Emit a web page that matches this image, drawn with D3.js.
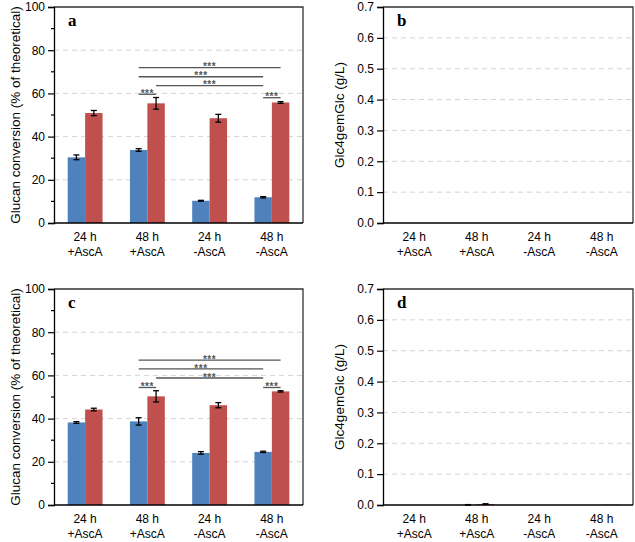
<!DOCTYPE html>
<html>
<head>
<meta charset="utf-8">
<script src="https://cdn.jsdelivr.net/npm/d3@7"></script>
<style>
  body { margin: 0; background: #fff; }
  svg { display: block; font-family: Arial, "Liberation Sans", sans-serif; }
</style>
</head>
<body>
<svg id="chart" width="635" height="542"></svg>
<script>
// ---------- data ----------
const catLine1 = ["24 h", "48 h", "24 h", "48 h"];
const catLine2 = ["+AscA", "+AscA", "-AscA", "-AscA"];
const seriesNames = ["blue", "red"];

// Panel a – glucan conversion (%)
const aBlue = [30.4, 33.8, 10.3, 11.9];
const aBlueErr = [1.1, 0.6, 0.2, 0.3];
const aRed = [50.9, 55.4, 48.5, 55.8];
const aRedErr = [1.2, 2.7, 1.8, 0.4];

// Panel c – glucan conversion (%)
const cBlue = [38.2, 38.7, 24.1, 24.6];
const cBlueErr = [0.4, 1.7, 0.6, 0.3];
const cRed = [44.2, 50.3, 46.2, 52.6];
const cRedErr = [0.6, 2.6, 1.2, 0.3];

// Panel b – Glc4gemGlc (g/L)
const bBlue = [0, 0, 0, 0];
const bBlueErr = [0, 0, 0, 0];
const bRed = [0, 0, 0, 0];
const bRedErr = [0, 0, 0, 0];

// Panel d – Glc4gemGlc (g/L)
const dBlue = [0, 0.0005, 0, 0];
const dBlueErr = [0, 0.0008, 0, 0];
const dRed = [0, 0.003, 0, 0.001];
const dRedErr = [0, 0.001, 0, 0];

// significance brackets: [group, series] -> [group, series] at height y
const sigA = [
  { from: [1, 0], to: [3, 1], y: 71.9 },
  { from: [1, 0], to: [3, 0], y: 67.7 },
  { from: [1, 1], to: [3, 0], y: 63.6 },
  { from: [1, 0], to: [1, 1], y: 59.6 },
  { from: [3, 0], to: [3, 1], y: 58.0 }
];
const sigC = [
  { from: [1, 0], to: [3, 1], y: 67.1 },
  { from: [1, 0], to: [3, 0], y: 63.0 },
  { from: [1, 1], to: [3, 0], y: 58.8 },
  { from: [1, 0], to: [1, 1], y: 54.4 },
  { from: [3, 0], to: [3, 1], y: 54.4 }
];
const sigLabel = "***";

const glucanTicks = [0, 20, 40, 60, 80, 100];
const glucanMinor = [10, 30, 50, 70, 90];
const glcTicks = [0, 0.1, 0.2, 0.3, 0.4, 0.5, 0.6, 0.7];

const colors = { blue: "#4f81bd", red: "#c0504d" };

// ---------- drawing ----------
const svg = d3.select("#chart");

function panel(opts) {
  const { left, right, top, bottom, domain, ticks, minor, fmt, title, titleX, letter, blue, blueErr, red, redErr, sig } = opts;
  const g = svg.append("g");
  const x = d3.scaleBand().domain(d3.range(4)).range([left, right]).paddingInner(0.44).paddingOuter(0.22);
  const xs = d3.scaleBand().domain(seriesNames).range([0, x.bandwidth()]);
  const y = d3.scaleLinear().domain(domain).range([bottom, top]);

  // gridlines
  g.append("g").selectAll("line").data(ticks.filter(t => t > domain[0] && t < domain[1])).join("line")
    .attr("x1", left).attr("x2", right)
    .attr("y1", d => y(d)).attr("y2", d => y(d))
    .attr("stroke", "#d4d4d4").attr("stroke-width", 1).attr("stroke-dasharray", "5,4");

  // bars
  const rows = [];
  for (let i = 0; i < 4; i++) {
    rows.push({ i, s: "blue", v: blue[i], e: blueErr[i] });
    rows.push({ i, s: "red", v: red[i], e: redErr[i] });
  }
  g.append("g").selectAll("rect").data(rows.filter(r => r.v > 0)).join("rect")
    .attr("x", d => x(d.i) + xs(d.s))
    .attr("width", xs.bandwidth())
    .attr("y", d => y(d.v))
    .attr("height", d => Math.max(0, y(0) - y(d.v)))
    .attr("fill", d => colors[d.s]);

  // error bars
  const eb = g.append("g").attr("stroke", "#000").attr("stroke-width", 1.3);
  rows.filter(r => r.v > 0 && r.e > 0).forEach(d => {
    const cx = x(d.i) + xs(d.s) + xs.bandwidth() / 2;
    const y1 = y(d.v + d.e), y2 = y(d.v - d.e);
    eb.append("line").attr("x1", cx).attr("x2", cx).attr("y1", y1).attr("y2", y2);
    eb.append("line").attr("x1", cx - 3).attr("x2", cx + 3).attr("y1", y1).attr("y2", y1);
    eb.append("line").attr("x1", cx - 3).attr("x2", cx + 3).attr("y1", y2).attr("y2", y2);
  });

  // significance brackets
  if (sig) {
    const cxOf = p => x(p[0]) + xs(seriesNames[p[1]]) + xs.bandwidth() / 2;
    const sg = g.append("g");
    sig.forEach(s => {
      const x1 = cxOf(s.from), x2 = cxOf(s.to);
      sg.append("line").attr("x1", x1).attr("x2", x2).attr("y1", y(s.y)).attr("y2", y(s.y))
        .attr("stroke", "#555").attr("stroke-width", 1.3);
      sg.append("text").attr("x", (x1 + x2) / 2).attr("y", y(s.y) + 2.6)
        .attr("text-anchor", "middle").attr("font-size", 10).attr("font-weight", "bold")
        .attr("letter-spacing", 0.6).attr("fill", "#555").text(sigLabel);
    });
  }

  // frame (top + right)
  g.append("path").attr("d", `M${left},${top}H${right}V${bottom}`)
    .attr("fill", "none").attr("stroke", "#333").attr("stroke-width", 1.3);

  // y axis
  const yAxis = d3.axisLeft(y).tickValues(ticks).tickFormat(fmt).tickSize(6).tickPadding(3);
  const ya = g.append("g").attr("transform", `translate(${left},0)`).call(yAxis);
  ya.attr("font-family", null);
  ya.select(".domain").attr("stroke", "#000").attr("stroke-width", 1.3);
  ya.selectAll(".tick line").attr("stroke", "#000").attr("stroke-width", 1.2);
  ya.selectAll("text").attr("font-size", 12).attr("fill", "#000");
  if (minor) {
    g.append("g").selectAll("line").data(minor).join("line")
      .attr("x1", left - 3).attr("x2", left)
      .attr("y1", d => y(d)).attr("y2", d => y(d))
      .attr("stroke", "#000").attr("stroke-width", 1.2);
  }

  // x axis line
  g.append("line").attr("x1", left).attr("x2", right).attr("y1", bottom).attr("y2", bottom)
    .attr("stroke", "#000").attr("stroke-width", 1.3);

  // category labels
  const cl = g.append("g").attr("font-size", 12).attr("text-anchor", "middle").attr("fill", "#000");
  for (let i = 0; i < 4; i++) {
    const cx = x(i) + x.bandwidth() / 2;
    cl.append("text").attr("x", cx).attr("y", bottom + 18).text(catLine1[i]);
    cl.append("text").attr("x", cx).attr("y", bottom + 33).text(catLine2[i]);
  }

  // y title
  g.append("text")
    .attr("transform", `translate(${titleX},${(top + bottom) / 2}) rotate(-90)`)
    .attr("text-anchor", "middle").attr("dy", "0.35em")
    .attr("font-size", 13.5).attr("fill", "#000").text(title);

  // panel letter
  g.append("text").attr("x", left + 14).attr("y", top + 19)
    .style("font-family", "'Times New Roman', 'Liberation Serif', serif")
    .attr("font-weight", "bold").attr("font-size", 17).attr("fill", "#000").text(letter);
}

const fmtInt = d3.format("d");
const fmt1 = d3.format(".1f");

panel({ left: 54, right: 303, top: 7, bottom: 223, domain: [0, 100], ticks: glucanTicks, minor: glucanMinor,
  fmt: fmtInt, title: "Glucan conversion (% of theoretical)", titleX: 15, letter: "a",
  blue: aBlue, blueErr: aBlueErr, red: aRed, redErr: aRedErr, sig: sigA });
panel({ left: 383, right: 633, top: 7, bottom: 223, domain: [0, 0.7], ticks: glcTicks, minor: null,
  fmt: fmt1, title: "Glc4gemGlc (g/L)", titleX: 339, letter: "b",
  blue: bBlue, blueErr: bBlueErr, red: bRed, redErr: bRedErr, sig: null });
panel({ left: 54, right: 303, top: 289, bottom: 505, domain: [0, 100], ticks: glucanTicks, minor: glucanMinor,
  fmt: fmtInt, title: "Glucan conversion (% of theoretical)", titleX: 15, letter: "c",
  blue: cBlue, blueErr: cBlueErr, red: cRed, redErr: cRedErr, sig: sigC });
panel({ left: 383, right: 633, top: 289, bottom: 505, domain: [0, 0.7], ticks: glcTicks, minor: null,
  fmt: fmt1, title: "Glc4gemGlc (g/L)", titleX: 339, letter: "d",
  blue: dBlue, blueErr: dBlueErr, red: dRed, redErr: dRedErr, sig: null });
</script>
</body>
</html>
